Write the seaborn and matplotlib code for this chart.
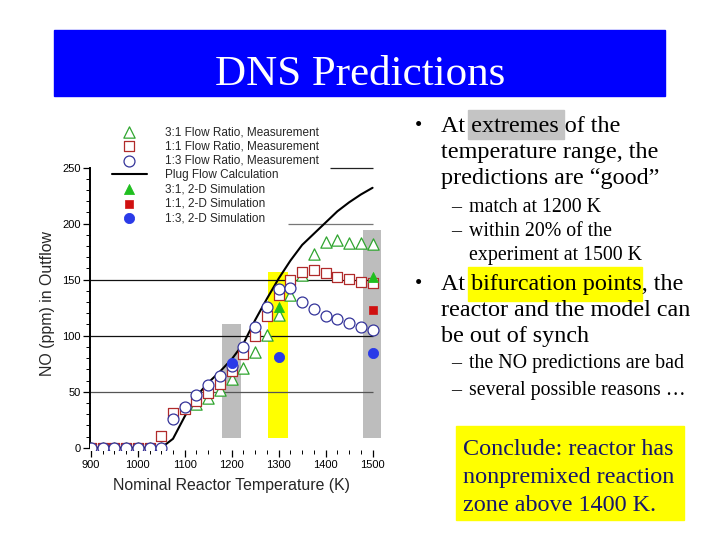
import numpy as np
import pandas as pd
import matplotlib
matplotlib.use("Agg")
import matplotlib.pyplot as plt
import seaborn as sns
from matplotlib.patches import Rectangle

# ---------------- data ----------------
temps = [900, 925, 950, 975, 1000, 1025, 1050, 1075, 1100, 1125, 1150, 1175, 1200,
         1225, 1250, 1275, 1300, 1325, 1350, 1375, 1400, 1425, 1450, 1475, 1500]
nan = np.nan
meas_31 = [0, 0, 0, 0, 0, 0, 0, nan, nan, 39, 44, 51.5, 61, 71, 85.5, 101, 118.5,
           136, 154, 173, 184, 185, 183, 182.5, 182]
meas_11 = [0, 0, 0, 0, 0, 0, 10.5, 31, 35, 42, 49, 57, 68.5, 83.5, 100, 117.5, 136,
           150, 157, 159, 155.7, 152, 150.5, 148, 146.8]
meas_13 = [0, 0, 0, 0, 0, 0, 0, 26, 36, 47, 56, 64, 73, 90, 108, 126, 142, 143, 130,
           123.5, 118, 115, 111, 107.5, 105]
plug_flow = [0, 0, 0, 0, 0, 0, 0, 8, 28, 46, 58, 68, 79, 93, 114, 133, 151, 167, 181,
             191, 201, 211, 219, 226, 232]

sim31_t = [1300, 1500]
sim31 = [126, 152]
sim11_t = [1500]
sim11 = [123]
sim13_t = [1200, 1300, 1500]
sim13 = [76, 81, 84.5]

band_lo = [1180, 1278, 1479]
band_hi = [1220, 1319, 1519]
band_top = [110, 157, 194]
band_bottom = 9
band_colors = ["#bdbdbd", "#ffff00", "#bdbdbd"]

grid_levels = [50, 100, 150, 200, 250]
grid_start = [899, 899, 899, 1320, 1410]
grid_colors = ["#555555", "#111111", "#111111", "#777777", "#222222"]

labels = ["3:1 Flow Ratio, Measurement", "1:1 Flow Ratio, Measurement",
          "1:3 Flow Ratio, Measurement", "Plug Flow Calculation",
          "3:1, 2-D Simulation", "1:1, 2-D Simulation", "1:3, 2-D Simulation"]

GREEN = "#2fa52f"
RED = "#b02a2a"
NAVY = "#34349a"
GREEN_F = "#1fbf1f"
RED_F = "#d01010"
BLUE_F = "#2a3ae8"

# ---------------- figure ----------------
sns.set_style("white")
plt.rcParams["font.family"] = ["Liberation Sans", "DejaVu Sans"]

W, H = 720, 540
fig = plt.figure(figsize=(7.2, 5.4), dpi=100)

def fx(x):
    return x / W

def fy(y):
    return 1 - y / H

# title bar
fig.patches.append(Rectangle((fx(54), fy(96)), fx(665) - fx(54), fy(30) - fy(96),
                             transform=fig.transFigure, color="#0000ff", zorder=0))
fig.text(fx(360), fy(85), "DNS Predictions", color="white", fontsize=31,
         family="Liberation Serif", ha="center", va="baseline")

# ---------------- chart ----------------
ax = fig.add_axes([0.1255, 0.1667, 0.405, 0.5955])
ax.set_facecolor("none")

for lo, hi, top, c in zip(band_lo, band_hi, band_top, band_colors):
    ax.fill_between([lo, hi], band_bottom, top, color=c, lw=0, zorder=1)

for lvl, st, c in zip(grid_levels, grid_start, grid_colors):
    ax.hlines(lvl, st, 1500, color=c, lw=0.9, zorder=2)

df = pd.DataFrame({"T": temps, "m31": meas_31, "m11": meas_11, "m13": meas_13,
                   "plug": plug_flow})

sns.lineplot(data=df, x="T", y="plug", color="black", lw=1.5, ax=ax,
             label=labels[3], zorder=3)
sns.scatterplot(data=df, x="T", y="m31", marker="^", s=66, color="white",
                edgecolor=GREEN, linewidth=0.9, ax=ax, label=labels[0], zorder=4)
sns.scatterplot(data=df, x="T", y="m11", marker="s", s=46, color="white",
                edgecolor=RED, linewidth=0.9, ax=ax, label=labels[1], zorder=5)
sns.scatterplot(data=df, x="T", y="m13", marker="o", s=62, color="white",
                edgecolor=NAVY, linewidth=0.9, ax=ax, label=labels[2], zorder=6)
sns.scatterplot(x=sim31_t, y=sim31, marker="^", s=52, color=GREEN_F,
                edgecolor=GREEN_F, ax=ax, label=labels[4], zorder=7)
sns.scatterplot(x=sim11_t, y=sim11, marker="s", s=38, color=RED_F,
                edgecolor=RED_F, ax=ax, label=labels[5], zorder=7)
sns.scatterplot(x=sim13_t, y=sim13, marker="o", s=54, color=BLUE_F,
                edgecolor=BLUE_F, ax=ax, label=labels[6], zorder=7)

ax.set_xlim(899, 1520)
ax.set_ylim(-2, 285)
ax.set_xticks(range(900, 1501, 100))
ax.set_xticks(range(900, 1501, 25), minor=True)
ax.set_yticks(range(0, 251, 50))
ax.set_yticks(range(0, 251, 10), minor=True)
ax.tick_params(axis="both", which="major", direction="out", labelsize=8,
               length=5, width=0.9, color="black", labelcolor="black",
               bottom=True, left=True, pad=2)
ax.tick_params(axis="both", which="minor", direction="out", length=3, width=0.7,
               color="black", bottom=True, left=True)
for s in ["top", "right", "bottom"]:
    ax.spines[s].set_visible(False)
ax.spines["left"].set_bounds(0, 250)
ax.spines["left"].set_color("black")
ax.spines["left"].set_linewidth(1.4)

ax.set_xlabel("Nominal Reactor Temperature (K)", fontsize=11.4)
ax.set_ylabel("NO (ppm) in Outflow", fontsize=11.4)
ax.xaxis.set_label_coords(0.485, -0.088)
ax.yaxis.set_label_coords(-0.12, 0.455)

h, l = ax.get_legend_handles_labels()
hm = dict(zip(l, h))
ax.legend([hm[k] for k in labels], labels, loc="upper left",
          bbox_to_anchor=(fx(112), fy(126)), bbox_transform=fig.transFigure,
          frameon=False, fontsize=8.5, labelspacing=0.2, handlelength=2.95,
          handletextpad=1.5, borderaxespad=0, borderpad=0, scatterpoints=1)

# ---------------- slide text ----------------
SERIF = "Liberation Serif"
BIG = 17.4
SMALL = 14.3

# highlights
fig.patches.append(Rectangle((fx(468), fy(139)), fx(564) - fx(468), fy(110) - fy(139),
                             transform=fig.transFigure, color="#c4c4c4", zorder=0))
fig.patches.append(Rectangle((fx(468), fy(301)), fx(642) - fx(468), fy(267) - fy(301),
                             transform=fig.transFigure, color="#ffff00", zorder=0))
fig.patches.append(Rectangle((fx(456), fy(520)), fx(684) - fx(456), fy(426) - fy(520),
                             transform=fig.transFigure, color="#ffff00", zorder=0))

def line(x, y, s, size, color="black"):
    fig.text(fx(x), fy(y), s, fontsize=size, family=SERIF, color=color,
             ha="left", va="baseline")

line(415, 131, "\u2022", 15)
line(441, 132, "At extremes of the", BIG)
line(441, 158, "temperature range, the", BIG)
line(441, 184, "predictions are \u201cgood\u201d", BIG)
line(451, 212, "\u2013", SMALL)
line(469, 212, "match at 1200 K", SMALL)
line(451, 236, "\u2013", SMALL)
line(469, 236, "within 20% of the", SMALL)
line(469, 260, "experiment at 1500 K", SMALL)

line(415, 289, "\u2022", 15)
line(441, 290, "At bifurcation points, the", BIG)
line(441, 316, "reactor and the model can", BIG)
line(441, 342, "be out of synch", BIG)
line(451, 368, "\u2013", SMALL)
line(469, 368, "the NO predictions are bad", SMALL)
line(451, 395, "\u2013", SMALL)
line(469, 395, "several possible reasons \u2026", SMALL)

NAVYTXT = "#16166a"
line(463, 455, "Conclude: reactor has", BIG, NAVYTXT)
line(463, 483, "nonpremixed reaction", BIG, NAVYTXT)
line(463, 511, "zone above 1400 K.", BIG, NAVYTXT)

fig.savefig("out.png", dpi=100)
